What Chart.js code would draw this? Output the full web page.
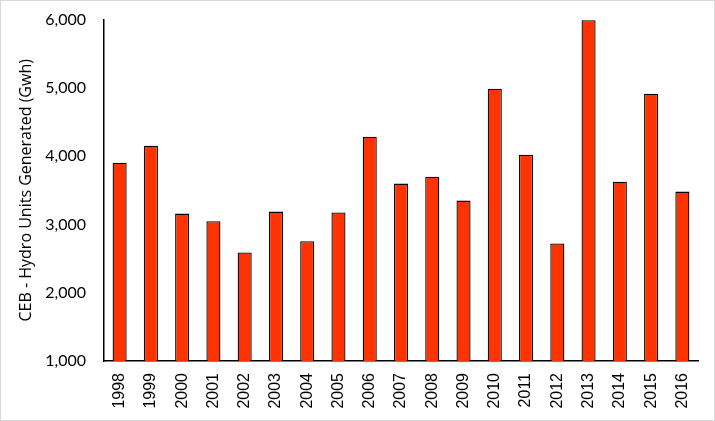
<!DOCTYPE html>
<html>
<head>
<meta charset="utf-8">
<script src="https://cdn.jsdelivr.net/npm/chart.js@4/dist/chart.umd.min.js"></script>
<style>
  html, body { margin: 0; padding: 0; background: #fff; }
  #wrap { width: 715px; height: 421px; box-sizing: border-box; border: 1px solid #d9d9d9; position: relative; overflow: hidden; }
  #inner { position: absolute; left: 0; top: -9px; width: 713px; height: 428px; }
</style>
</head>
<body>
<div id="wrap"><div id="inner"><canvas id="hydroChart"></canvas></div></div>
<script>
// years on the x axis
const years = ['1998', '1999', '2000', '2001', '2002', '2003', '2004', '2005', '2006', '2007',
  '2008', '2009', '2010', '2011', '2012', '2013', '2014', '2015', '2016'];

// hydro units generated (Gwh)
const hydroUnits = [3905, 4153, 3159, 3047, 2589, 3188, 2754, 3174, 4285, 3598,
  3700, 3349, 4987, 4022, 2721, 5990, 3627, 4914, 3481];

const yTicks = [1000, 2000, 3000, 4000, 5000, 6000];

const ctx = document.getElementById('hydroChart').getContext('2d');
const myChart = new Chart(ctx, {
  type: 'bar',
  data: {
    labels: years,
    datasets: [{
      label: 'CEB - Hydro Units Generated (Gwh)',
      data: hydroUnits,
      backgroundColor: '#FF3300',
      borderColor: '#000000',
      borderWidth: 1.3,
      borderSkipped: 'bottom',
      barPercentage: 0.45,
      categoryPercentage: 1.0
    }]
  },
  options: {
    responsive: true,
    maintainAspectRatio: false,
    animation: false,
    layout: {
      padding: { top: 0, right: 16, bottom: 0, left: 0 }
    },
    plugins: {
      legend: { display: false },
      tooltip: { enabled: false }
    },
    scales: {
      x: {
        afterFit: axis => { axis.height = 59; },
        grid: { display: false, drawTicks: false, tickLength: 0 },
        border: { display: true, color: '#000000', width: 1.5 },
        ticks: {
          color: '#000000',
          maxRotation: 90,
          minRotation: 90,
          padding: 12,
          font: { family: 'Liberation Sans', size: 16 }
        }
      },
      y: {
        min: yTicks[0],
        max: yTicks[yTicks.length - 1],
        afterBuildTicks: axis => { axis.ticks = yTicks.map(v => ({ value: v })); },
        afterFit: axis => { axis.width = 103; },
        grid: { display: false, drawTicks: false, tickLength: 0 },
        border: { display: true, color: '#000000', width: 1.5 },
        ticks: {
          color: '#000000',
          padding: 18,
          font: { family: 'Lato', size: 16 },
          callback: value => value.toLocaleString('en-US')
        },
        title: {
          display: true,
          text: 'CEB - Hydro Units Generated (Gwh)',
          color: '#000000',
          font: { family: 'Open Sans', size: 16 },
          padding: { top: 16, bottom: 0 }
        }
      }
    }
  }
});
</script>
</body>
</html>
